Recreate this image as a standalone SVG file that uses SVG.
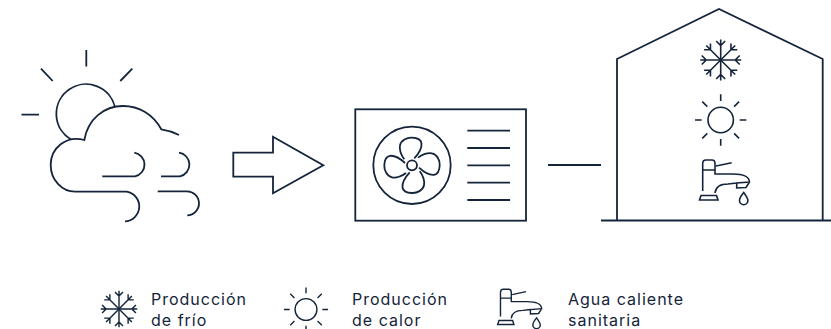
<svg xmlns="http://www.w3.org/2000/svg" xmlns:xlink="http://www.w3.org/1999/xlink" width="831" height="329" viewBox="0 0 831 329">
<style>
.l{fill:none;stroke:#14243a;stroke-width:1.8;stroke-linecap:butt;stroke-linejoin:miter}
.s{fill:none;stroke:#14243a;stroke-width:1.6}
text{font-family:"Inter","Noto Sans",sans-serif;font-size:16px;fill:#14243a;letter-spacing:1px}
</style>
<defs>
<g id="flake" class="s">
<g id="arm"><path d="M0,0V-20.500M-4.500,-19L0,-14.500L4.500,-19"/></g>
<use xlink:href="#arm" transform="rotate(45)"/><use xlink:href="#arm" transform="rotate(90)"/><use xlink:href="#arm" transform="rotate(135)"/><use xlink:href="#arm" transform="rotate(180)"/><use xlink:href="#arm" transform="rotate(225)"/><use xlink:href="#arm" transform="rotate(270)"/><use xlink:href="#arm" transform="rotate(315)"/>
</g>
<g id="sun" class="s">
<circle r="12.700"/>
<path d="M0,-25.700V-19M0,25.700V19M-25.700,0H-19M25.700,0H19M-18.400,-18.400L-13.400,-13.400M18.400,-18.400L13.400,-13.400M-18.400,18.400L-13.400,13.400M18.400,18.400L13.400,13.400"/>
</g>
<g id="tap" class="s">
<path d="M702.700,170V163.500Q702.700,160 706,160H712Q715,160 715,163.500V170ZM702.700,170V191M716,166L731.700,162.700M715,170V174H733Q749,174 749.500,182L736.700,183V188L746,187.500L749.500,182M715,193Q716,184 728,184L736.700,183M699.500,200L701,195.500H716.500L718,200Z"/>
<path d="M743.700,192.500C740,197 739.500,199 739.500,200.500a4.200,4.200 0 0 0 8.400,0C747.900,199 747,197 743.700,192.500Z"/>
</g>
<path id="blade" d="M-7.700,-6C-11,-10 -13,-16 -12,-20C-11,-25 -5,-28 0,-27.700C5,-27.500 9,-26 9.500,-22C10,-17 6,-11 2.300,-7"/>
</defs>
<g id="weather" class="l">
<path d="M115,107.300A29.700,29.700 0 1 0 70.700,139.300"/>
<path d="M86.300,50V66.600M21.500,114.700H39M41,68.700L52.700,81M132.300,68.700L120.300,81"/>
<path d="M179,135Q170,130.500 161.300,129.300C153,114 139,106 123,106C104,106 88,119 84.300,140C66,135 50.700,148 50.700,165C50.700,180 62,191.700 75,191.700H126.700A14.900,14.900 0 0 1 125,221.300"/>
<path d="M102.300,176.300H135A12,12 0 0 0 134.300,152.700M161,176.300H180A12,12 0 0 0 179,152.700M157.700,191.300H186.700A12,12 0 0 1 187.300,215.300"/>
</g>
<g id="arrow" class="l"><path d="M233.300,152.700H273V136.700L323.300,165.300L273,193.300V176.700H233.300Z"/></g>
<g id="unit" class="l">
<rect x="355.300" y="109.300" width="170.700" height="111.400"/>
<circle cx="412" cy="165.300" r="38.700"/>
<circle cx="412" cy="165.300" r="5"/>
<g transform="translate(412,165.300)"><use xlink:href="#blade"/><use xlink:href="#blade" transform="rotate(90)"/><use xlink:href="#blade" transform="rotate(180)"/><use xlink:href="#blade" transform="rotate(270)"/></g>
<path d="M467.300,130.700H510M467.300,148H510M467.300,165.300H510M467.300,182.700H510M467.300,200H510"/>
</g>
<g id="connectors" class="l"><path d="M548,165H601"/></g>
<g id="house">
<path class="l" d="M617,220.500V59L719,9L822.700,59V220.500M601,220.500H831"/>
<use xlink:href="#flake" transform="translate(720.700,60)"/>
<use xlink:href="#sun" transform="translate(720.700,120)"/>
<use xlink:href="#tap"/>
</g>
<g id="legend-frio">
<use xlink:href="#flake" transform="translate(119,309) scale(.89)"/>
<text x="151" y="305">Producción</text><text x="151" y="326">de frío</text>
</g>
<g id="legend-calor">
<use xlink:href="#sun" transform="translate(306,309.500) scale(.86)"/>
<text x="352" y="305">Producción</text><text x="352" y="326">de calor</text>
</g>
<g id="legend-agua">
<use xlink:href="#tap" transform="translate(-117.900,148.500) scale(.88)"/>
<text x="568" y="305">Agua caliente</text><text x="568" y="326">sanitaria</text>
</g>
</svg>
